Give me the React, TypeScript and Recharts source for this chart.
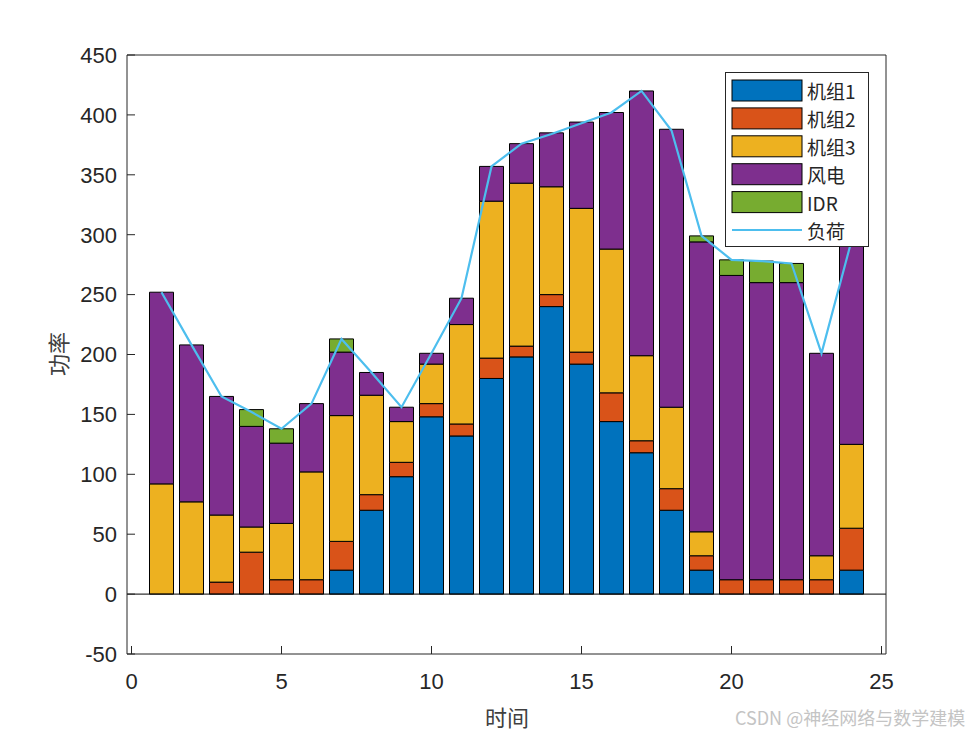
import { Bar, ComposedChart, Legend, Line, ReferenceLine, XAxis, YAxis } from "recharts";

document.body.style.margin = "0";

// 时段 1..24
const hours = [1, 2, 3, 4, 5, 6, 7, 8, 9, 10, 11, 12, 13, 14, 15, 16, 17, 18, 19, 20, 21, 22, 23, 24];
const unit1 = [0, 0, 0, 0, 0, 0, 20, 70, 98, 148, 132, 180, 198, 240, 192, 144, 118, 70, 20, 0, 0, 0, 0, 20];
const unit2 = [0, 0, 10, 35, 12, 12, 24, 13, 12, 11, 10, 17, 9, 10, 10, 24, 10, 18, 12, 12, 12, 12, 12, 35];
const unit3 = [92, 77, 56, 21, 47, 90, 105, 83, 34, 33, 83, 131, 136, 90, 120, 120, 71, 68, 20, 0, 0, 0, 20, 70];
const wind = [160, 131, 99, 84, 67, 57, 53, 19, 12, 9, 22, 29, 33, 45, 72, 114, 221, 232, 242, 254, 248, 248, 169, 170];
const idr = [0, 0, 0, 14, 12, 0, 11, 0, 0, 0, 0, 0, 0, 0, 0, 0, 0, 0, 5, 13, 18, 16, 0, 0];
const load = [252, 208, 165, 152, 138, 159, 213, 185, 156, 201, 247, 357, 376, 384, 393, 402, 420, 387, 299, 279, 278, 276, 201, 295];

const xTicks = [0, 5, 10, 15, 20, 25];
const yTicks = [-50, 0, 50, 100, 150, 200, 250, 300, 350, 400, 450];

const data = hours.map((h, i) => ({
  h,
  unit1: unit1[i],
  unit2: unit2[i],
  unit3: unit3[i],
  wind: wind[i],
  idr: idr[i],
  load: load[i],
}));

const series = [
  { key: "unit1", name: "机组1", color: "#0072BD" },
  { key: "unit2", name: "机组2", color: "#D95319" },
  { key: "unit3", name: "机组3", color: "#EDB120" },
  { key: "wind", name: "风电", color: "#7E2F8E" },
  { key: "idr", name: "IDR", color: "#77AC30" },
];
const loadColor = "#4DBEEE";

const axisColor = "#262626";
const numFont = "'Liberation Sans', Arial, sans-serif";
const cjkFont = "'Noto Sans CJK SC', 'Liberation Sans', sans-serif";

function MatlabLegend() {
  const rows = [...series.map((s) => ({ name: s.name, color: s.color, line: false })), { name: "负荷", color: loadColor, line: true }];
  return (
    <svg width={145} height={176} style={{ display: "block" }}>
      <rect x={0.5} y={0.5} width={143} height={174} fill="#fff" stroke={axisColor} strokeWidth={1} />
      {rows.map((r, i) => {
        const cy = 18.5 + i * 27.9;
        return (
          <g key={r.name}>
            {r.line ? (
              <line x1={7} x2={77} y1={cy} y2={cy} stroke={r.color} strokeWidth={2} />
            ) : (
              <rect x={7} y={cy - 10.5} width={70} height={21} fill={r.color} stroke="#000" strokeWidth={1} />
            )}
            <text x={82} y={cy} dominantBaseline="central" fontSize={19} fontFamily={cjkFont} fill={axisColor}>
              {r.name}
            </text>
          </g>
        );
      })}
    </svg>
  );
}

export default function App() {
  return (
    <div style={{ position: "relative", width: 980, height: 735, background: "#fff" }}>
      <ComposedChart
        width={980}
        height={735}
        data={data}
        margin={{ top: 54, right: 93, bottom: 41, left: 67 }}
      >
        <XAxis
          dataKey="h"
          type="number"
          domain={[-0.15, 25.15]}
          allowDataOverflow
          ticks={xTicks}
          height={40}
          tickSize={-8}
          tickMargin={27}
          stroke={axisColor}
          tick={{ fontSize: 22, fontFamily: numFont, fill: axisColor }}
          label={{
            content: () => (
              <text x={507} y={716} textAnchor="middle" dominantBaseline="central" fontSize={22} fontFamily={cjkFont} fill="#404040">
                时间
              </text>
            ),
          }}
        />
        <XAxis
          xAxisId="top"
          orientation="top"
          type="number"
          domain={[-0.15, 25.15]}
          allowDataOverflow
          ticks={xTicks}
          height={1}
          tickSize={-8}
          tick={false}
          stroke={axisColor}
        />
        <YAxis
          type="number"
          domain={[-50, 450]}
          allowDataOverflow
          ticks={yTicks}
          width={60}
          tickSize={-8}
          tickMargin={18}
          stroke={axisColor}
          tick={{ fontSize: 22, fontFamily: numFont, fill: axisColor }}
          label={{
            content: () => (
              <text
                x={57}
                y={354}
                transform="rotate(-90 57 354)"
                textAnchor="middle"
                dominantBaseline="central"
                fontSize={22}
                fontFamily={cjkFont}
                fill="#404040"
              >
                功率
              </text>
            ),
          }}
        />
        <YAxis
          yAxisId="right"
          orientation="right"
          type="number"
          domain={[-50, 450]}
          allowDataOverflow
          ticks={yTicks}
          width={1}
          tickSize={-8}
          tick={false}
          stroke={axisColor}
        />
        <ReferenceLine y={0} stroke="#000" strokeWidth={1} />
        {series.map((s) => (
          <Bar
            key={s.key}
            dataKey={s.key}
            name={s.name}
            stackId="p"
            fill={s.color}
            stroke="#000"
            strokeWidth={1}
            barSize={24}
            isAnimationActive={false}
          />
        ))}
        <Line
          dataKey="load"
          name="负荷"
          type="linear"
          stroke={loadColor}
          strokeWidth={2.2}
          dot={false}
          isAnimationActive={false}
        />
        <Legend
          layout="vertical"
          align="center"
          verticalAlign="middle"
          content={() => <MatlabLegend />}
          wrapperStyle={{ position: "absolute", left: 725, top: 72, width: 145, height: 176 }}
        />
      </ComposedChart>
      <div
        style={{
          position: "absolute",
          left: 735,
          top: 705,
          fontSize: 18,
          fontFamily: cjkFont,
          color: "#c4c4c4",
          whiteSpace: "nowrap",
          lineHeight: "24px",
        }}
      >
        CSDN @神经网络与数学建模
      </div>
    </div>
  );
}
